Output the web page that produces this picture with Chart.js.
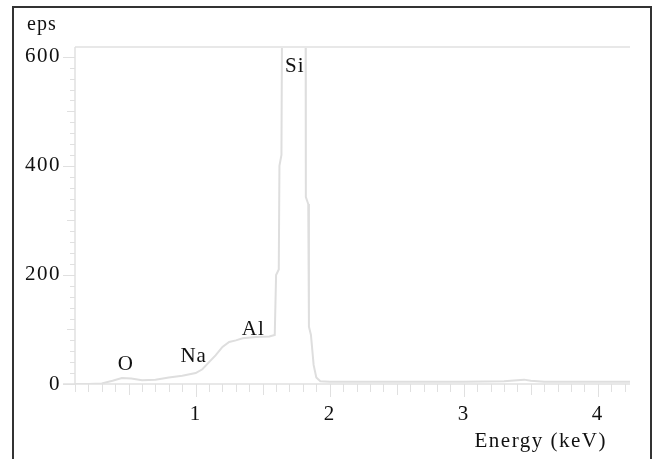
<!DOCTYPE html>
<html>
<head>
<meta charset="utf-8">
<script src="https://cdn.jsdelivr.net/npm/chart.js@4/dist/chart.umd.min.js"></script>
<style>
html,body{margin:0;padding:0;background:#fff;}
#wrap{position:absolute;left:0;top:0;width:655px;height:459px;}
</style>
</head>
<body>
<div id="wrap"><canvas id="c" width="655" height="459"></canvas></div>
<script>
// ---- data ----
const energyKeV = [0.10,0.20,0.30,0.38,0.45,0.52,0.60,0.70,0.80,0.90,1.00,1.05,1.10,1.15,1.20,1.25,1.30,1.35,1.45,1.55,1.59,1.60,1.61,1.62,1.625,1.64,1.645,1.70,1.74,1.78,1.82,1.822,1.84,1.845,1.86,1.88,1.90,1.93,2.00,2.50,3.00,3.30,3.40,3.45,3.50,3.60,3.80,4.24];
const counts    = [0,0,1,6,11,10,7,8,12,15,20,27,40,53,68,77,80,84,86,87,90,200,205,210,400,420,700,900,1000,900,700,343,330,105,90,35,12,5,4,4,4,5,7,8,6,4,4,4];
const xTickValues = [1,2,3,4];
const yTickValues = [0,200,400,600];
const peakNames  = ['O','Na','Al','Si'];
const peakEnergy = [0.48,0.985,1.43,1.74];
const peakLabelCounts = [35,51,100,583];
const yAxisUnit = 'eps';
const xAxisTitle = 'Energy (keV)';

const GREY = '#e0e0e0';
const FONT = "'Liberation Serif', 'Times New Roman', serif";

const decor = {
  id:'decor',
  beforeDraw(chart){
    const ctx = chart.ctx;
    ctx.save();
    ctx.fillStyle='#fff';
    ctx.fillRect(0,0,chart.width,chart.height);
    ctx.restore();
    ctx.letterSpacing='1.5px';
  },
  afterDraw(chart){
    const ctx = chart.ctx, xs = chart.scales.x, ys = chart.scales.y, a = chart.chartArea;
    ctx.save();
    // outer frame
    ctx.strokeStyle='#333'; ctx.lineWidth=2;
    ctx.strokeRect(13,7,638,520);
    // plot top line
    ctx.strokeStyle='#e8e8e8'; ctx.lineWidth=2;
    ctx.beginPath(); ctx.moveTo(a.left,a.top); ctx.lineTo(a.right,a.top); ctx.stroke();
    // axes lines
    ctx.strokeStyle=GREY; ctx.lineWidth=1.5;
    ctx.beginPath(); ctx.moveTo(a.left,a.top); ctx.lineTo(a.left,a.bottom); ctx.stroke();
    ctx.beginPath(); ctx.moveTo(a.left-12,a.bottom); ctx.lineTo(a.right,a.bottom); ctx.stroke();
    // x ticks every 0.1 keV
    ctx.lineWidth=1;
    for(let i=1;i<=42;i++){
      const v=i/10; const px=xs.getPixelForValue(v);
      if(px<a.left-13||px>a.right) continue;
      const len = (i%10===0)?13:((i%5===0)?11:8);
      ctx.beginPath(); ctx.moveTo(Math.round(px)+0.5,a.bottom); ctx.lineTo(Math.round(px)+0.5,a.bottom+len); ctx.stroke();
    }
    // y ticks every 20
    for(let v=0;v<=600;v+=20){
      const py=ys.getPixelForValue(v);
      const len = (v%200===0)?12:(v%100===0?8:5);
      ctx.beginPath(); ctx.moveTo(a.left-len,Math.round(py)+0.5); ctx.lineTo(a.left,Math.round(py)+0.5); ctx.stroke();
    }
    // texts
    ctx.fillStyle='#111';
    ctx.letterSpacing='1px';
    ctx.font='20px '+FONT; ctx.textAlign='left'; ctx.textBaseline='middle';
    ctx.fillText(yAxisUnit,27,25);
    ctx.letterSpacing='1.5px';
    ctx.font='21px '+FONT; ctx.textAlign='right';
    ctx.fillText(xAxisTitle,607,441);
    ctx.letterSpacing='1px';
    ctx.textAlign='center';
    for(let i=0;i<peakNames.length;i++){
      ctx.fillText(peakNames[i], xs.getPixelForValue(peakEnergy[i]), ys.getPixelForValue(peakLabelCounts[i]));
    }
    ctx.restore();
  }
};

new Chart(document.getElementById('c'),{
  type:'line',
  data:{datasets:[{
    data: energyKeV.map((e,i)=>({x:e,y:counts[i]})),
    borderColor:'#dedede', borderWidth:2, pointRadius:0, tension:0, fill:false, clip:0
  }]},
  options:{
    responsive:false, animation:false, devicePixelRatio:1,
    layout:{padding:{left:0,top:47,right:25,bottom:0}},
    plugins:{legend:{display:false},tooltip:{enabled:false}},
    scales:{
      x:{type:'linear',min:0.10,max:4.24,
        afterFit(s){s.height=75;},
        afterBuildTicks(s){s.ticks=xTickValues.map(v=>({value:v}));},
        grid:{display:false,drawTicks:false},border:{display:false},
        ticks:{color:'#111',font:{family:FONT,size:21},padding:18,maxRotation:0,autoSkip:false}
      },
      y:{type:'linear',min:0,max:618,
        afterFit(s){s.width=75;},
        afterBuildTicks(s){s.ticks=yTickValues.map(v=>({value:v}));},
        grid:{display:false,drawTicks:false},border:{display:false},
        ticks:{color:'#111',font:{family:FONT,size:21},padding:14}
      }
    }
  },
  plugins:[decor]
});
</script>
</body>
</html>
